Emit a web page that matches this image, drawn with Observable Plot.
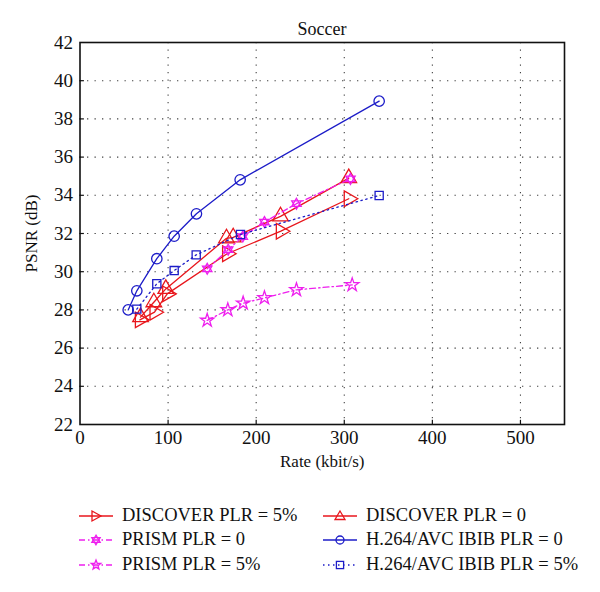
<!DOCTYPE html>
<html>
<head>
<meta charset="utf-8">
<script src="https://cdn.jsdelivr.net/npm/d3@7"></script>
<script src="https://cdn.jsdelivr.net/npm/@observablehq/plot@0.6"></script>
<style>
  html, body { margin: 0; padding: 0; background: #fff; }
  #wrap { position: relative; width: 600px; height: 592px; font-family: "Liberation Serif", "Times New Roman", Times, serif; }
  #title { position: absolute; left: 0; width: 644px; top: 19px; text-align: center; font-size: 18px; color: #111; }
  #chart { position: absolute; left: 0; top: 0; }
  #chart svg, #chart svg text { font-family: "Liberation Serif", "Times New Roman", Times, serif !important; }
  #legend { position: absolute; left: 0; top: 0; width: 600px; height: 592px; pointer-events: none; }
  .li { position: absolute; display: flex; align-items: center; font-size: 18.5px; color: #111; white-space: nowrap; }
  .li svg { margin-right: 9px; }
</style>
</head>
<body>
<div id="wrap">
  <div id="chart"></div>
  <div id="title">Soccer</div>
  <div id="legend"></div>
</div>
<script>
// ---- data ----
const xTicks = [0, 100, 200, 300, 400, 500];
const yTicks = [22, 24, 26, 28, 30, 32, 34, 36, 38, 40, 42];

const discover5Rate = [68.0, 84.6, 99.0, 167.0, 228.0, 305.1];
const discover5Psnr = [27.48, 27.88, 28.84, 30.94, 32.12, 33.82];

const discover0Rate = [68.7, 83.8, 97.4, 166.3, 173.9, 227.6, 305.1];
const discover0Psnr = [27.62, 28.40, 29.10, 31.75, 31.80, 32.90, 34.90];

const prism0Rate = [144.4, 168.2, 184.8, 209.4, 245.7, 307.0];
const prism0Psnr = [30.15, 31.15, 31.84, 32.60, 33.56, 34.86];

const prism5Rate = [144.4, 167.8, 185.2, 209.4, 245.7, 309.0];
const prism5Psnr = [27.45, 28.00, 28.35, 28.63, 29.05, 29.31];

const h264p0Rate = [54.7, 64.5, 87.2, 106.9, 132.2, 181.8, 339.6];
const h264p0Psnr = [28.00, 29.00, 30.68, 31.86, 33.03, 34.81, 38.93];

const h264p5Rate = [64.5, 87.2, 106.9, 131.9, 182.2, 339.6];
const h264p5Psnr = [28.04, 29.37, 30.06, 30.88, 31.95, 33.99];

const seriesNames = [
  "DISCOVER PLR = 5%", "DISCOVER PLR = 0",
  "PRISM PLR = 0", "H.264/AVC IBIB PLR = 0",
  "PRISM PLR = 5%", "H.264/AVC IBIB PLR = 5%"
];

// ---- styles ----
const RED = "#e8161c", BLUE = "#1c1cc8", MAG = "#ee1fee";
const FONT = "'Liberation Serif', 'Times New Roman', Times, serif";

// six-pointed star (hexagram) symbol
const hexagram = {
  draw(context, size) {
    const r = Math.sqrt(size / Math.PI) * 1.05;
    for (let k = 0; k < 2; k++) {
      const off = k === 0 ? -Math.PI / 2 : Math.PI / 2;
      for (let i = 0; i < 3; i++) {
        const a = off + i * 2 * Math.PI / 3;
        const x = r * Math.cos(a), y = r * Math.sin(a);
        if (i === 0) context.moveTo(x, y); else context.lineTo(x, y);
      }
      context.closePath();
    }
  }
};

const series = [
  {name: seriesNames[0], rate: discover5Rate, psnr: discover5Psnr, color: RED, dash: null, symbol: "triangle", rotate: 90, r: 5.8},
  {name: seriesNames[1], rate: discover0Rate, psnr: discover0Psnr, color: RED, dash: null, symbol: "triangle", rotate: 0, r: 5.8},
  {name: seriesNames[2], rate: prism0Rate, psnr: prism0Psnr, color: MAG, dash: "6,3,1.5,3", symbol: hexagram, rotate: 0, r: 5.2},
  {name: seriesNames[3], rate: h264p0Rate, psnr: h264p0Psnr, color: BLUE, dash: null, symbol: "circle", rotate: 0, r: 5.2},
  {name: seriesNames[4], rate: prism5Rate, psnr: prism5Psnr, color: MAG, dash: "6,3,1.5,3", symbol: "star", rotate: 0, r: 4.2},
  {name: seriesNames[5], rate: h264p5Rate, psnr: h264p5Psnr, color: BLUE, dash: "1.5,3.5", symbol: "square", rotate: 0, r: 4.6}
];

const marks = [
  Plot.gridX(xTicks.filter(d => d > 0), {stroke: "#222", strokeOpacity: 0.85, strokeDasharray: "1.3,6.2", strokeWidth: 1.1}),
  Plot.gridY(yTicks.filter(d => d > 22 && d < 42), {stroke: "#222", strokeOpacity: 0.85, strokeDasharray: "1.3,6.2", strokeWidth: 1.1}),
  // inward ticks
  Plot.ruleX(xTicks.filter(d => d > 0), {y1: 22, y2: 22.22, stroke: "#111", strokeWidth: 1.2}),
  Plot.ruleY(yTicks.filter(d => d > 22 && d < 42), {x1: 0, x2: 5, stroke: "#111", strokeWidth: 1.2}),
  // tick labels drawn through the scales
  Plot.text(xTicks, {x: d => d, frameAnchor: "bottom", dy: 19, fontSize: 19, fontFamily: FONT, text: d => String(d)}),
  Plot.text(yTicks, {y: d => d, frameAnchor: "left", textAnchor: "end", dx: -7, fontSize: 19, fontFamily: FONT, text: d => String(d)}),
  Plot.text(["Rate (kbit/s)"], {frameAnchor: "bottom", dy: 42, fontSize: 17, fontFamily: FONT, text: d => d}),
  Plot.text(["PSNR (dB)"], {frameAnchor: "left", textAnchor: "middle", dx: -48, rotate: -90, fontSize: 17, fontFamily: FONT, text: d => d})
];

for (const s of series) {
  const rows = s.rate.map((r, i) => ({rate: r, psnr: s.psnr[i]}));
  marks.push(Plot.line(rows, {x: "rate", y: "psnr", stroke: s.color, strokeWidth: 1.3, strokeDasharray: s.dash}));
  marks.push(Plot.dot(rows, {x: "rate", y: "psnr", stroke: s.color, strokeWidth: 1.3, fill: "none",
    symbol: s.symbol, r: s.r, rotate: s.rotate}));
}
marks.push(Plot.frame({stroke: "#111", strokeWidth: 1.6}));

const chart = Plot.plot({
  width: 600,
  height: 480,
  marginLeft: 79.5,
  marginRight: 36,
  marginTop: 42,
  marginBottom: 56,
  style: {fontFamily: FONT, fontSize: "19px", color: "#111", background: "#fff"},
  x: {domain: [0, 550], axis: null},
  y: {domain: [22, 42], axis: null},
  marks
});
document.getElementById("chart").appendChild(chart);

// ---- legend ----
function glyph(s) {
  const w = 34, h = 16, cx = 17, cy = 8;
  let marker = "";
  const st = `fill="none" stroke="${s.color}" stroke-width="1.3"`;
  if (s.symbol === "circle") marker = `<circle cx="${cx}" cy="${cy}" r="4" ${st}/>`;
  else if (s.symbol === "square") marker = `<rect x="${cx-3.6}" y="${cy-3.6}" width="7.2" height="7.2" ${st}/>`;
  else if (s.symbol === "triangle") {
    const p = s.rotate === 90 ? `${cx-4},${cy-5} ${cx+5},${cy} ${cx-4},${cy+5}` : `${cx},${cy-5} ${cx+5},${cy+3.5} ${cx-5},${cy+3.5}`;
    marker = `<polygon points="${p}" ${st}/>`;
  } else if (s.symbol === "star") {
    const pts = [];
    for (let i = 0; i < 10; i++) {
      const a = -Math.PI/2 + i*Math.PI/5, rr = i % 2 ? 2.1 : 5;
      pts.push(`${(cx + rr*Math.cos(a)).toFixed(2)},${(cy + rr*Math.sin(a)).toFixed(2)}`);
    }
    marker = `<polygon points="${pts.join(" ")}" ${st}/>`;
  } else {
    const tri = off => [0,1,2].map(i => { const a = off + i*2*Math.PI/3; return `${(cx+4.8*Math.cos(a)).toFixed(2)},${(cy+4.8*Math.sin(a)).toFixed(2)}`; }).join(" ");
    marker = `<polygon points="${tri(-Math.PI/2)}" ${st}/><polygon points="${tri(Math.PI/2)}" ${st}/>`;
  }
  const dash = s.dash ? `stroke-dasharray="${s.dash}"` : "";
  return `<svg width="${w}" height="${h}"><line x1="0" y1="${cy}" x2="${w}" y2="${cy}" stroke="${s.color}" stroke-width="1.3" ${dash}/>${marker}</svg>`;
}
const legend = document.getElementById("legend");
const colX = [79, 323], rowY = [505, 529, 554];
series.forEach((s, i) => {
  const div = document.createElement("div");
  div.className = "li";
  div.style.left = colX[i % 2] + "px";
  div.style.top = rowY[Math.floor(i / 2)] + "px";
  div.innerHTML = glyph(s) + `<span>${s.name}</span>`;
  legend.appendChild(div);
});
</script>
</body>
</html>
